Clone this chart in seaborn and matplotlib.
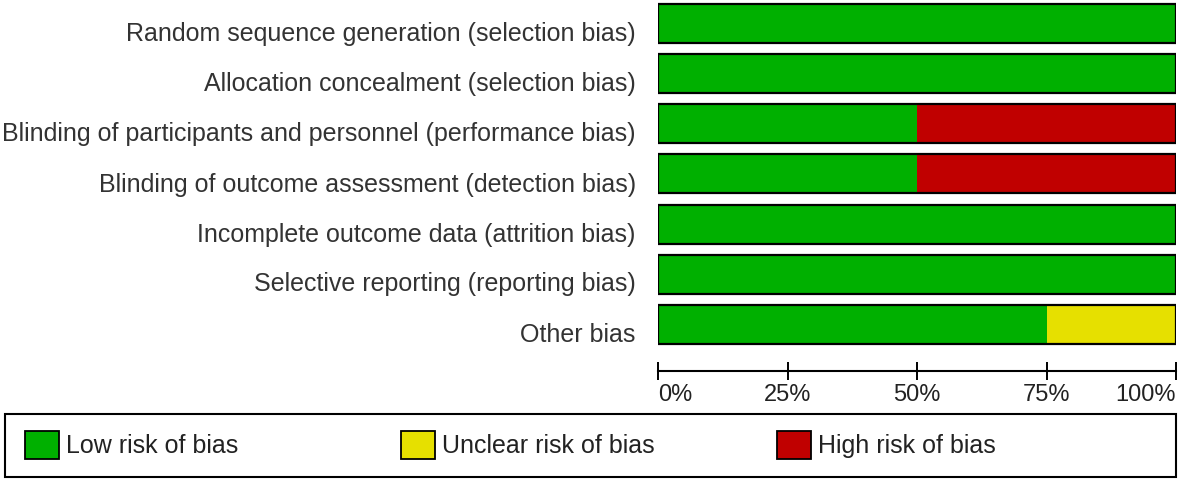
import numpy as np
import pandas as pd
import matplotlib
matplotlib.use("Agg")
import matplotlib.pyplot as plt
import matplotlib.transforms as mtransforms
from matplotlib.patches import Patch, Rectangle
import seaborn as sns

domains = ["Random sequence generation (selection bias)",
           "Allocation concealment (selection bias)",
           "Blinding of participants and personnel (performance bias)",
           "Blinding of outcome assessment (detection bias)",
           "Incomplete outcome data (attrition bias)",
           "Selective reporting (reporting bias)",
           "Other bias"]
low = [100, 100, 50, 50, 100, 100, 75]
unclear = [0, 0, 0, 0, 0, 0, 25]
high = [0, 0, 50, 50, 0, 0, 0]
tick_vals = [0, 25, 50, 75, 100]
tick_labels = ["0%", "25%", "50%", "75%", "100%"]
legend_labels = ["Low risk of bias", "Unclear risk of bias", "High risk of bias"]

GREEN = "#00b000"
YELLOW = "#e6e000"
RED = "#c00000"

df = pd.DataFrame({"domain": domains, "low": low, "unclear": unclear, "high": high})
df["cum_unclear"] = df["low"] + df["unclear"]
df["cum_high"] = df["cum_unclear"] + df["high"]

sns.set_style("white")
plt.rcParams["font.family"] = ["Liberation Sans", "DejaVu Sans"]

fig = plt.figure(figsize=(11.82, 4.86), dpi=100)
ax = fig.add_axes([658 / 1182, 1 - 371 / 486, 518 / 1182, 371 / 486])

bw = 0.78
sns.barplot(data=df, x="cum_high", y="domain", color=RED, saturation=1, width=bw,
            edgecolor="none", linewidth=0, ax=ax, errorbar=None)
sns.barplot(data=df, x="cum_unclear", y="domain", color=YELLOW, saturation=1, width=bw,
            edgecolor="none", linewidth=0, ax=ax, errorbar=None)
sns.barplot(data=df, x="low", y="domain", color=GREEN, saturation=1, width=bw,
            edgecolor="none", linewidth=0, ax=ax, errorbar=None)
# outline of the whole bar, no inner borders
sns.barplot(data=df, x="cum_high", y="domain", fill=False, width=bw,
            edgecolor="black", linewidth=1.6, ax=ax, errorbar=None)

ax.set_xlim(0, 100)
ax.set_ylim(6.94, -0.48)
ax.set_xlabel("")
ax.set_ylabel("")

for s in ["top", "left", "right"]:
    ax.spines[s].set_visible(False)
ax.spines["bottom"].set_linewidth(1.5)
ax.spines["bottom"].set_color("black")

ax.tick_params(axis="y", left=False, length=0, pad=16, labelsize=18, labelcolor="#333333")
# labels sit a little below the bar centre in the original
shift = mtransforms.ScaledTranslation(0, -8 / 100, fig.dpi_scale_trans)
for t in ax.get_yticklabels():
    t.set_transform(t.get_transform() + shift)

ax.set_xticks(tick_vals)
ax.set_xticklabels(tick_labels)
ax.tick_params(axis="x", bottom=True, direction="inout", length=13, width=1.4,
               color="black", pad=3, labelsize=17, labelcolor="#222222")
xl = ax.get_xticklabels()
xl[0].set_ha("left")
xl[-1].set_ha("right")

# legend box
fig.add_artist(Rectangle((5 / 1182, 9 / 486), 1171 / 1182, 63 / 486,
                         transform=fig.transFigure, fill=False,
                         edgecolor="black", linewidth=1.5))
# one legend per entry so the columns sit at equal steps like the original
for i, (c, lab) in enumerate(zip([GREEN, YELLOW, RED], legend_labels)):
    h = Patch(facecolor=c, edgecolor="black", linewidth=1.3)
    lg = fig.legend([h], [lab], loc="center left",
                    bbox_to_anchor=((25 + 376 * i) / 1182, 41 / 486), frameon=False,
                    fontsize=18, handlelength=1.36, handleheight=1.36,
                    handletextpad=0.28, borderpad=0, borderaxespad=0,
                    labelcolor="#222222")

fig.savefig("out.png", dpi=100, facecolor="white")
